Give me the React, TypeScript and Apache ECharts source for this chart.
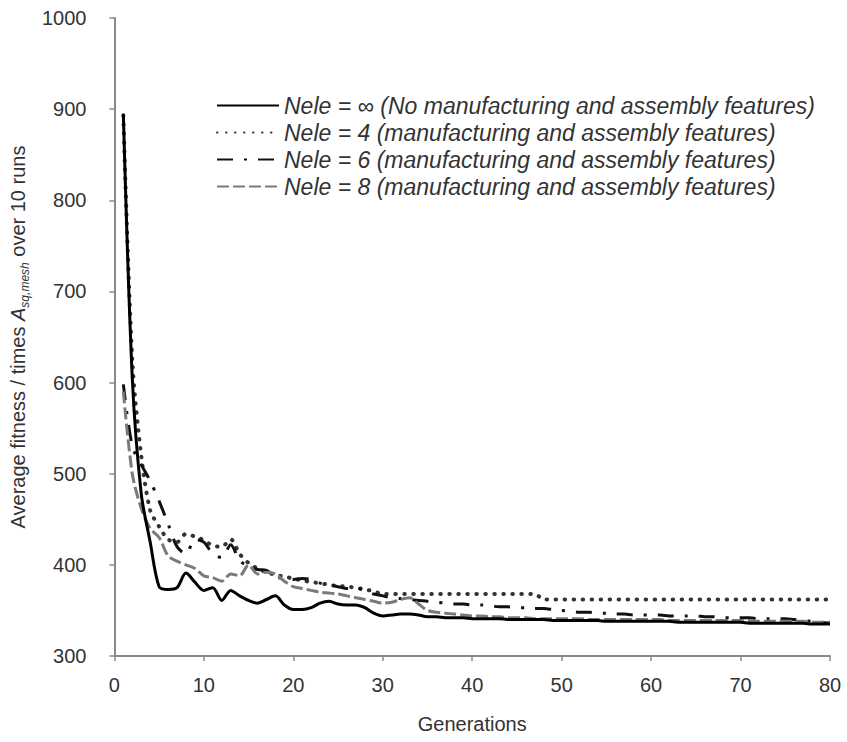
import React, { useEffect, useRef } from "react";
import * as echarts from "echarts";

const generations = [
  1, 2, 3, 4, 5, 6, 7, 8, 9, 10, 11, 12, 13, 14, 15, 16, 17, 18, 19, 20,
  21, 22, 23, 24, 25, 26, 27, 28, 29, 30, 31, 32, 33, 34, 35, 36, 37, 38, 39, 40,
  41, 42, 43, 44, 45, 46, 47, 48, 49, 50, 51, 52, 53, 54, 55, 56, 57, 58, 59, 60,
  61, 62, 63, 64, 65, 66, 67, 68, 69, 70, 71, 72, 73, 74, 75, 76, 77, 78, 79, 80,
];

const neleInf = [
  895, 605, 478, 425, 376, 373, 375, 391, 381, 372, 375, 361, 372, 366, 361, 358, 362, 366, 356, 351,
  351, 353, 358, 360, 357, 356, 356, 353, 347, 344, 345, 346, 346, 345, 343, 343, 342, 342, 342, 341,
  341, 341, 341, 340, 340, 340, 340, 340, 339, 339, 339, 339, 339, 339, 338, 338, 338, 338, 338, 338,
  338, 338, 337, 337, 337, 337, 337, 337, 337, 337, 336, 336, 336, 336, 336, 336, 336, 335, 335, 335,
];

const nele4 = [
  893, 625, 520, 460, 442, 428, 425, 434, 431, 427, 421, 420, 428, 412, 402, 396, 392, 389, 387, 385,
  383, 381, 380, 378, 377, 376, 375, 373, 371, 368, 368, 368, 368, 368, 368, 368, 368, 368, 368, 368,
  368, 368, 368, 368, 368, 368, 368, 362, 362, 362, 362, 362, 362, 362, 362, 362, 362, 362, 362, 362,
  362, 362, 362, 362, 362, 362, 362, 362, 362, 362, 362, 362, 362, 362, 362, 362, 362, 362, 362, 362,
];

const nele6 = [
  598, 530, 510, 492, 470, 445, 420, 412, 428, 425, 412, 408, 422, 405, 398, 395, 394, 387, 385, 384,
  385, 384, 380, 378, 376, 374, 375, 371, 368, 366, 364, 363, 362, 361, 360, 359, 358, 357, 357, 356,
  356, 355, 354, 354, 353, 353, 352, 352, 351, 350, 349, 348, 348, 347, 347, 346, 346, 345, 345, 345,
  345, 344, 344, 344, 344, 343, 343, 342, 342, 342, 342, 341, 341, 341, 341, 340, 339, 338, 337, 336,
];

const nele8 = [
  590, 500, 462, 440, 430, 410, 404, 400, 396, 388, 386, 382, 390, 388, 400, 390, 392, 390, 382, 376,
  374, 372, 370, 369, 368, 366, 364, 362, 360, 358, 359, 362, 364, 357, 350, 348, 347, 346, 345, 344,
  344, 343, 343, 342, 342, 342, 341, 341, 341, 341, 341, 341, 340, 340, 340, 340, 340, 340, 340, 340,
  340, 339, 339, 339, 339, 339, 339, 339, 339, 339, 339, 338, 338, 338, 338, 338, 338, 337, 337, 337,
];

const seriesNames = [
  "Nele = \u221e (No manufacturing and assembly features)",
  "Nele = 4 (manufacturing and assembly features)",
  "Nele = 6 (manufacturing and assembly features)",
  "Nele = 8 (manufacturing and assembly features)",
];

const xTicks = { min: 0, max: 80, interval: 10 };
const yTicks = { min: 300, max: 1000, interval: 100 };

const FONT = "Liberation Sans, Arial, sans-serif";
const TEXT = "#333";
const AXIS = "#8a8a8a";

function pairs(vals: number[]) {
  return generations.map((g, i) => [g, vals[i]]);
}

export default function App() {
  const ref = useRef<HTMLDivElement>(null);
  useEffect(() => {
    if (!ref.current) return;
    const chart = echarts.init(ref.current, null, { renderer: "svg" });
    chart.setOption({
      animation: false,
      backgroundColor: "#fff",
      textStyle: { fontFamily: FONT },
      grid: { left: 108, right: 17, top: 18, bottom: 86, containLabel: false },
      legend: {
        data: seriesNames,
        orient: "vertical",
        left: 211,
        top: 89,
        itemWidth: 62,
        itemHeight: 14,
        itemGap: 4,
        itemStyle: { opacity: 0 },
        textStyle: {
          fontFamily: FONT,
          fontSize: 23,
          fontStyle: "italic",
          color: TEXT,
          lineHeight: 23,
        },
      },
      xAxis: {
        type: "value",
        min: xTicks.min,
        max: xTicks.max,
        interval: xTicks.interval,
        name: "Generations",
        nameLocation: "middle",
        nameGap: 58,
        nameTextStyle: { fontSize: 20, color: TEXT, fontFamily: FONT },
        axisLine: { show: true, lineStyle: { color: AXIS, width: 2 } },
        axisTick: { show: true, length: 5, lineStyle: { color: AXIS, width: 1.5 } },
        axisLabel: { fontSize: 20, color: TEXT, margin: 19, fontFamily: FONT },
        splitLine: { show: false },
      },
      yAxis: {
        type: "value",
        min: yTicks.min,
        max: yTicks.max,
        interval: yTicks.interval,
        name: "{t|Average fitness / times }{a|A}{s|sq,mesh}{t| over 10 runs}",
        nameLocation: "middle",
        nameRotate: 90,
        nameGap: 80,
        nameTextStyle: {
          fontSize: 20,
          color: TEXT,
          fontFamily: FONT,
          rich: {
            t: { fontSize: 20, color: TEXT, fontFamily: FONT, lineHeight: 26 },
            a: { fontSize: 20, color: TEXT, fontFamily: FONT, fontStyle: "italic", lineHeight: 26 },
            s: {
              fontSize: 12,
              color: TEXT,
              fontFamily: FONT,
              fontStyle: "italic",
              lineHeight: 14,
              verticalAlign: "bottom",
            },
          },
        },
        axisLine: { show: true, lineStyle: { color: AXIS, width: 2 } },
        axisTick: { show: true, length: 5, lineStyle: { color: AXIS, width: 1.5 } },
        axisLabel: {
          fontSize: 20,
          color: TEXT,
          margin: 28,
          fontFamily: FONT,
          formatter: (v: number) => String(v),
        },
        splitLine: { show: false },
      },
      series: [
        {
          name: seriesNames[1],
          type: "line",
          data: pairs(nele4),
          showSymbol: false,
          symbol: "none",
          smooth: 0.3,
          z: 2,
          lineStyle: { color: "#333", width: 4, type: [0.5, 8.5], cap: "round" },
          itemStyle: { color: "#333" },
        },
        {
          name: seriesNames[2],
          type: "line",
          data: pairs(nele6),
          showSymbol: false,
          symbol: "none",
          smooth: 0.3,
          z: 2,
          lineStyle: { color: "#111", width: 3, type: [16, 11, 3, 11] },
          itemStyle: { color: "#111" },
        },
        {
          name: seriesNames[3],
          type: "line",
          data: pairs(nele8),
          showSymbol: false,
          symbol: "none",
          smooth: 0.3,
          z: 2,
          lineStyle: { color: "#7a7a7a", width: 3, type: [12, 4] },
          itemStyle: { color: "#7a7a7a" },
        },
        {
          name: seriesNames[0],
          type: "line",
          data: pairs(neleInf),
          showSymbol: false,
          symbol: "none",
          smooth: 0.3,
          z: 3,
          lineStyle: { color: "#000", width: 3, type: "solid" },
          itemStyle: { color: "#000" },
        },
      ],
    });
    return () => chart.dispose();
  }, []);
  return (
    <div
      ref={ref}
      style={{ position: "absolute", left: 0, top: 0, width: 847, height: 742 }}
    />
  );
}
